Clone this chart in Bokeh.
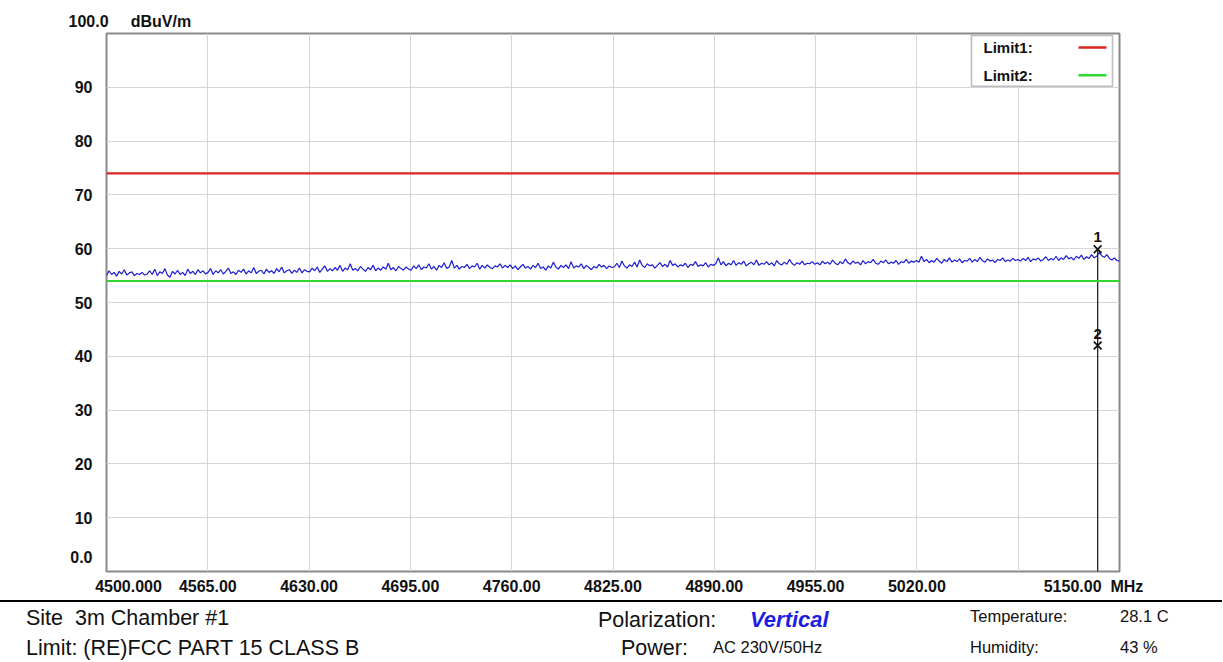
import numpy as np
from bokeh.plotting import figure
from bokeh.models import FixedTicker, Range1d, Span, Div
from bokeh.layouts import column
from bokeh.embed import file_html
from bokeh.resources import INLINE
from bokeh.core.properties import value

# ---------------- data ----------------
F_START, F_STOP = 4500.0, 5150.0
Y_MIN, Y_MAX = 0.0, 100.0

x_ticks = [4565, 4630, 4695, 4760, 4825, 4890, 4955, 5020, 5085]
x_tick_labels = ["4565.00", "4630.00", "4695.00", "4760.00", "4825.00",
                 "4890.00", "4955.00", "5020.00", ""]
x_start_label = "4500.000"
x_end_label = "5150.00"
x_unit = "MHz"

y_ticks = [10, 20, 30, 40, 50, 60, 70, 80, 90]
y_tick_labels = ["10", "20", "30", "40", "50", "60", "70", "80", "90"]
y_bottom_label = "0.0"
y_top_label = "100.0"
y_unit = "dBuV/m"

limit_names = ["Limit1:", "Limit2:"]
limit_levels = [74.0, 54.0]
limit_colors = ["#e02424", "#2ed82e"]

trace_level = [
    # 4500 - 4565
    55.0, 55.9, 55.2, 55.6, 54.9, 55.8, 55.3, 56.1, 55.1, 55.5, 55.7, 55.0, 55.4, 55.2,
    55.6, 55.1, 55.3, 55.9, 55.2, 56.2, 55.0, 55.7, 55.4, 56.3, 55.1, 54.7, 55.8, 55.3,
    56.0, 55.2, 55.6, 55.0, 56.2, 55.4, 55.8, 55.2, 56.1, 55.5, 55.9, 55.3,
    # 4565 - 4630
    55.6, 56.3, 55.2, 55.9, 55.5, 56.1, 55.3, 55.8, 56.4, 55.4, 55.7, 55.2, 56.0, 55.6,
    56.2, 55.3, 55.9, 55.5, 56.5, 55.4, 55.8, 56.0, 55.3, 56.2, 55.6, 55.9, 55.4, 56.3,
    55.7, 56.6, 55.5, 55.9, 56.1, 55.4, 56.0, 55.6, 56.4, 55.5, 56.1, 55.8,
    # 4630 - 4695
    55.7, 56.4, 55.9, 56.6, 55.6, 56.2, 56.8, 55.8, 56.3, 55.9, 56.5, 56.0, 56.9, 55.8,
    56.4, 56.1, 57.2, 56.0, 56.3, 55.9, 56.7, 56.2, 55.8, 56.5, 56.1, 56.9, 55.9, 56.4,
    56.0, 56.6, 56.2, 57.3, 56.1, 56.5, 55.9, 56.7, 56.3, 56.0, 56.6, 56.2,
    # 4695 - 4760
    56.0, 56.8, 56.3, 57.0, 56.1, 56.6, 56.4, 57.2, 56.2, 56.7, 56.0, 56.9, 56.5, 57.4,
    56.3, 56.6, 57.8, 56.4, 56.9, 56.2, 56.7, 56.5, 57.1, 56.3, 56.8, 56.6, 57.3, 56.2,
    56.9, 56.4, 57.0, 56.5, 56.3, 56.8, 56.6, 57.2, 56.4, 56.9, 56.5, 57.0,
    # 4760 - 4825
    56.3, 56.8, 56.1, 56.6, 57.1, 56.4, 56.7, 56.2, 56.9, 56.5, 57.3, 56.3, 56.6, 56.0,
    56.8, 56.4, 57.5, 56.6, 56.2, 56.9, 56.5, 57.0, 56.3, 57.6, 56.4, 56.8, 56.6, 57.2,
    56.3, 56.9, 56.5, 56.1, 56.7, 56.4, 57.1, 56.6, 56.9, 56.3, 56.8, 56.5,
    # 4825 - 4890
    56.6, 57.3, 56.5, 57.7, 56.8, 56.4, 57.0, 56.7, 57.5, 56.6, 57.9, 56.9, 56.5, 57.2,
    56.8, 57.0, 56.4, 56.9, 57.4, 56.7, 57.1, 56.6, 57.8, 56.9, 57.2, 56.6, 57.0, 56.8,
    57.3, 56.5, 57.1, 56.9, 57.6, 56.7, 57.0, 56.8, 57.4, 56.6, 57.1, 56.9,
    # 4890 - 4955
    57.2, 58.3, 57.0, 57.6, 56.8, 57.3, 57.0, 57.8, 56.9, 57.4, 57.1, 57.7, 56.8, 57.2,
    57.5, 57.0, 57.9, 56.9, 57.3, 57.1, 57.6, 57.0, 57.4, 56.8, 57.8, 57.2, 57.0, 57.5,
    57.1, 58.0, 57.3, 56.9, 57.4, 57.1, 57.7, 57.0, 57.3, 57.2, 57.6, 57.1,
    # 4955 - 5020
    57.4, 57.0, 57.7, 57.2, 57.5, 57.1, 57.9, 57.3, 57.0, 57.6, 57.2, 58.1, 57.4, 57.1,
    57.7, 57.3, 57.5, 57.0, 57.8, 57.2, 57.6, 57.4, 58.0, 57.3, 57.1, 57.7, 57.4, 57.9,
    57.2, 57.5, 57.3, 57.8, 57.1, 57.6, 57.4, 58.0, 57.3, 57.7, 57.5, 57.8,
    # 5020 - 5085
    57.5, 58.6, 57.6, 58.0, 57.4, 57.8, 57.5, 58.2, 57.7, 57.3, 58.0, 57.6, 58.3, 57.5,
    57.9, 57.6, 58.1, 57.4, 57.8, 57.7, 58.2, 57.5, 58.0, 57.6, 58.4, 57.8, 57.5, 58.1,
    57.7, 57.9, 57.4, 58.0, 57.8, 58.3, 57.6, 57.9, 57.7, 58.2, 57.8, 58.0,
    # 5085 - 5150
    57.7, 58.2, 57.8, 58.4, 57.6, 58.1, 57.9, 58.3, 57.7, 58.0, 58.5, 57.8, 58.2, 57.9,
    58.6, 57.8, 58.3, 58.0, 58.7, 58.1, 58.4, 57.9, 58.6, 58.2, 58.8, 58.0, 58.5, 58.2,
    58.9, 58.3, 58.6, 59.3, 58.7, 58.4, 58.9, 58.2, 57.9, 58.3, 57.8, 57.7,
]
trace_freq = np.linspace(F_START, F_STOP, len(trace_level))

marker_id = ["1", "2"]
marker_freq = [5136.0, 5136.0]
marker_level = [59.9, 42.0]

info_left = ["Site  3m Chamber #1", "Limit: (RE)FCC PART 15 CLASS B"]
info_mid_keys = ["Polarization:", "Power:"]
info_polarization = "Vertical"
info_power = "AC 230V/50Hz"
info_right_keys = ["Temperature:", "Humidity:"]
info_right_vals = ["28.1 C", "43 %"]

# ---------------- layout ----------------
W = 1222
H1 = 597
H2 = 64
FL, FR, FT, FB = 106, W - 1119, 33, 24
AX_FONT = "Liberation Sans"
TXT_FONT = "Liberation Sans"
LBL_SIZE = "16px"
NB = "\u00a0"


def sx(px):
    """page x pixel -> data x"""
    return F_START + (px - FL) * (F_STOP - F_START) / (W - FL - FR)


def sy(py):
    """page y pixel -> data y"""
    return Y_MAX - (py - FT) * (Y_MAX - Y_MIN) / (H1 - FT - FB)


p = figure(width=W, height=H1,
           x_range=Range1d(F_START, F_STOP), y_range=Range1d(Y_MIN, Y_MAX),
           output_backend="svg", toolbar_location=None,
           min_border_left=FL, min_border_right=FR,
           min_border_top=FT, min_border_bottom=FB,
           background_fill_color="white", border_fill_color="white",
           outline_line_color="#8a8a8a", outline_line_width=2)

# title carries the top-left "100.0   dBuV/m"
p.title.text = y_top_label + NB * 5 + y_unit
p.title.align = "left"
p.title.offset = 68 - FL
p.title.standoff = 7
p.title.text_font = AX_FONT
p.title.text_font_style = "bold"
p.title.text_font_size = LBL_SIZE
p.title.text_color = "#111111"

for ax in (p.xaxis[0], p.yaxis[0]):
    ax.axis_line_color = None
    ax.major_tick_line_color = None
    ax.minor_tick_line_color = None
    ax.major_tick_out = 0
    ax.major_tick_in = 0
    ax.major_label_text_font = AX_FONT
    ax.major_label_text_font_style = "bold"
    ax.major_label_text_font_size = LBL_SIZE
    ax.major_label_text_color = "#111111"

# x labels: regular ticks plus the two end labels placed as in the reference
x_lbl_pos = x_ticks + [sx(128), sx(1093)]
x_lbl_txt = x_tick_labels + [x_start_label, x_end_label + NB * 2 + x_unit]
p.xaxis.ticker = FixedTicker(ticks=x_lbl_pos)
p.xaxis.major_label_overrides = dict(zip(x_lbl_pos, x_lbl_txt))
p.xaxis.major_label_standoff = 6

y_lbl_pos = y_ticks + [sy(558)]
y_lbl_txt = y_tick_labels + [y_bottom_label]
p.yaxis.ticker = FixedTicker(ticks=y_lbl_pos)
p.yaxis.major_label_overrides = dict(zip(y_lbl_pos, y_lbl_txt))
p.yaxis.major_label_standoff = 14

p.xgrid.ticker = FixedTicker(ticks=x_ticks)
p.ygrid.ticker = FixedTicker(ticks=y_ticks)
p.grid.grid_line_color = "#d6d6d6"
p.grid.grid_line_width = 1

# limit lines
for lvl, col in zip(limit_levels, limit_colors):
    p.add_layout(Span(location=lvl, dimension="width", line_color=col,
                      line_width=2.2))

# trace
p.line(trace_freq, trace_level, line_color="#1c1cd0", line_width=1.2)

# markers
p.segment(x0=marker_freq[:1], y0=marker_level[:1], x1=marker_freq[:1],
          y1=[Y_MIN], line_color="#222222", line_width=1.3)
p.scatter(marker_freq, marker_level, marker="x", size=11,
          line_color="#111111", line_width=1.7)
p.text(marker_freq, marker_level, text=marker_id, text_align="center",
       text_baseline="middle", y_offset=-12,
       text_font=value(AX_FONT), text_font_style="bold",
       text_font_size="15px", text_color="#111111")

# legend box
p.quad(left=[sx(971)], right=[sx(1112)], top=[sy(35)], bottom=[sy(86)],
       fill_color="white", line_color="#bdbdbd", line_width=1.6)
p.text([sx(983), sx(983)], [sy(47), sy(75)], text=limit_names,
       text_align="left", text_baseline="middle",
       text_font=value(AX_FONT), text_font_style="bold",
       text_font_size="15px", text_color="#111111")
p.segment(x0=[sx(1078)] * 2, x1=[sx(1106)] * 2, y0=[sy(47), sy(75)],
          y1=[sy(47), sy(75)], line_color=limit_colors, line_width=2.5)

# ---------------- bottom info strip (HTML text) ----------------
STRIP_TOP = H1


def span(x, baseline, size, txt, extra=""):
    top = baseline - STRIP_TOP - 0.8465 * size
    return ('<span style="position:absolute;left:%dpx;top:%.1fpx;'
            'font-size:%.1fpx;line-height:%.1fpx;white-space:pre;%s">%s</span>'
            % (x, top, size, size, extra, txt))


parts = [
    '<div style="position:absolute;left:0;top:%dpx;width:%dpx;height:0;'
    'border-top:2.5px solid #000;"></div>' % (600 - STRIP_TOP, W),
    span(26, 626, 21.5, info_left[0]),
    span(26, 656, 21.5, info_left[1]),
    span(598, 628, 21.5, info_mid_keys[0]),
    span(621, 656, 21.5, info_mid_keys[1]),
    span(750, 628, 22, info_polarization,
         "font-weight:bold;font-style:italic;color:#1e1ee6;"),
    span(713, 653, 16.5, info_power),
    span(970, 622, 16.5, info_right_keys[0]),
    span(970, 653, 16.5, info_right_keys[1]),
    span(1120, 622, 16.5, info_right_vals[0]),
    span(1120, 653, 16.5, info_right_vals[1]),
]
html = ('<div style="position:relative;width:%dpx;height:%dpx;overflow:hidden;'
        "font-family:'%s',Arial,sans-serif;color:#111111;background:white;\">%s</div>"
        % (W, H2, TXT_FONT, "".join(parts)))
strip = Div(text=html, width=W, height=H2, margin=0)

layout = column(p, strip, spacing=0)
open("out.html", "w").write(file_html(layout, INLINE))
